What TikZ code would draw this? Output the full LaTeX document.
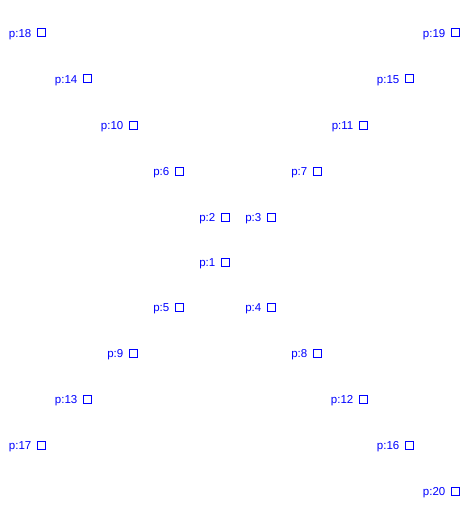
\documentclass[tikz,border=0pt]{standalone}
\usepackage{fontspec}
\setmainfont{Liberation Sans}
\begin{document}
\begin{tikzpicture}[x=1pt,y=-1pt,
  sq/.style={draw=blue, line width=1pt, minimum size=8pt, inner sep=0pt},
  lab/.style={text=blue, font=\fontsize{11.5}{14}\selectfont, anchor=base east, inner sep=0pt}]
\useasboundingbox (0,0) rectangle (465,508);
\foreach \n/\x/\y in {1/225/262, 2/225/217, 3/271/217, 4/271/307, 5/179/307,
  6/179/171, 7/317/171, 8/317/353, 9/133/353, 10/133/125, 11/363/125,
  12/363/399, 13/87/399, 14/87/79, 15/409/79, 16/409/445, 17/41/445,
  18/41/33, 19/455/33, 20/455/491} {
  \node[sq] (s\n) at (\x,\y) {};
  \node[lab] (l\n) at ([xshift=-5pt,yshift=-4.2pt]s\n.west) {p:\n};
}
\end{tikzpicture}
\end{document}
